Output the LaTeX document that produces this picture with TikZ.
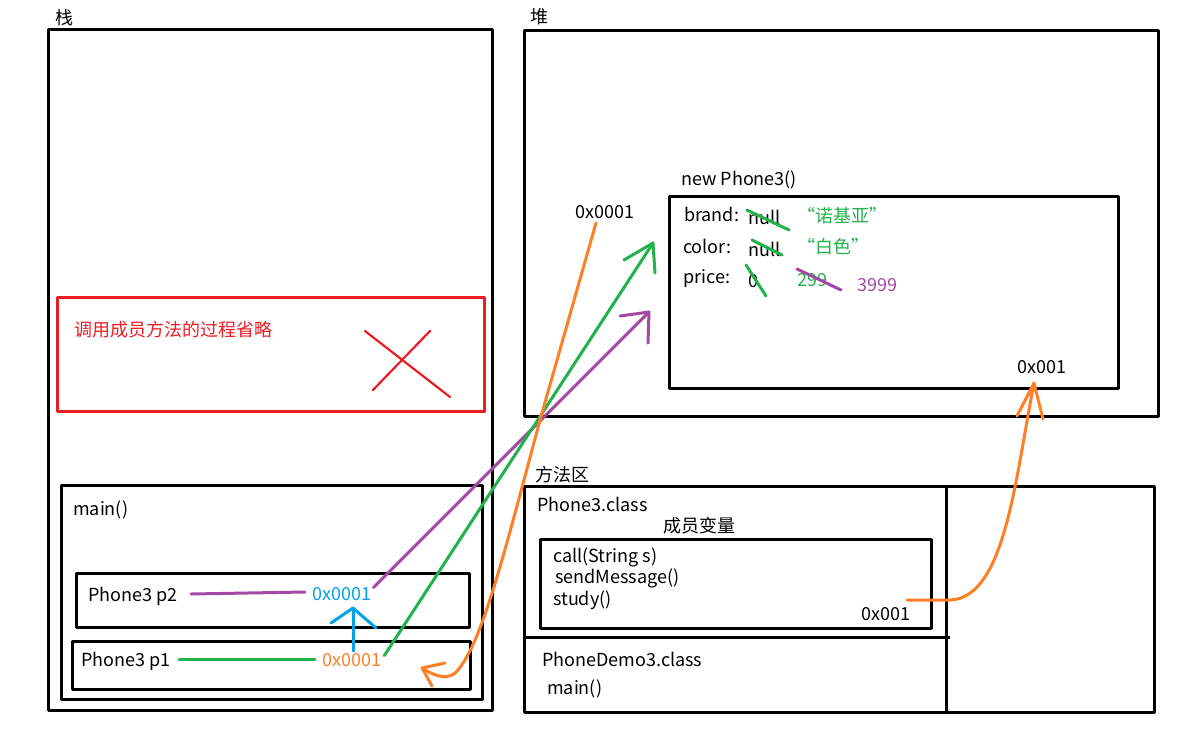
\documentclass[tikz,border=0pt]{standalone}
\usepackage{fontspec}
\setmainfont{Noto Sans CJK SC}
\definecolor{ppurple}{HTML}{A349A4}
\definecolor{pgreen}{HTML}{22B14C}
\definecolor{porange}{HTML}{FF7F27}
\definecolor{pcyan}{HTML}{00A2E8}
\definecolor{pred}{HTML}{ED1C24}
\begin{document}
\begin{tikzpicture}[x=1pt,y=-1pt,line join=round,line cap=round,
  txt/.style={anchor=base west,inner sep=0pt,font=\fontsize{18}{21}\selectfont},
  frame/.style={draw=black,line width=3pt,line cap=rect},
  pen/.style={line width=3pt}]
\useasboundingbox (0,0) rectangle (1186,729);
\fill[white] (0,0) rectangle (1186,729);
% ---- stack
\node[txt] (lstack) at (55,24) {栈};
\draw[frame] (48,29) rectangle (492,710);
\draw[pred,line width=3pt] (57,297) rectangle (484,411);
\node[txt,text=pred] (omit) at (74,336) {调用成员方法的过程省略};
\draw[pred,line width=2.2pt] (365,331) -- (450,397);
\draw[pred,line width=2.2pt] (373,390) -- (430,331);
\draw[frame] (61,485) rectangle (482,699);
\node[txt] (main) at (73,515) {main()};
\draw[frame] (76,573) rectangle (469,627);
\node[txt] (p2) at (88,601) {Phone3 p2};
\node[txt,text=pcyan] (p2v) at (312,600) {0x0001};
\draw[frame] (72,641) rectangle (470,689);
\node[txt] (p1) at (81,666) {Phone3 p1};
\node[txt,text=porange] (p1v) at (322,666) {0x0001};
% ---- heap
\node[txt] (lheap) at (530,23) {堆};
\draw[frame] (524,30) rectangle (1158,416);
\node[txt] (newp) at (681,185) {new Phone3()};
\draw[frame] (669,196) rectangle (1118,388);
\node[txt] (brand) at (684,221) {brand:};
\node[txt] (bnull) at (748,224) {null};
\node[txt,text=pgreen] (bval) at (797,222) {“诺基亚”};
\node[txt] (color) at (683,253) {color:};
\node[txt] (cnull) at (748,256) {null};
\node[txt,text=pgreen] (cval) at (797,253) {“白色”};
\node[txt] (price) at (683,283) {price:};
\node[txt] (pzero) at (748,287) {0};
\node[txt,text=pgreen] (pold) at (797,286) {299};
\node[txt,text=ppurple] (pnew) at (857,291) {3999};
\draw[pgreen,pen] (747,210) -- (789,230);
\draw[pgreen,pen] (752,240) -- (782,255);
\draw[pgreen,pen] (746,265) -- (766,296);
\draw[ppurple,pen] (797,269) -- (841,290);
\node[txt] (objaddr) at (1017,373) {0x001};
\node[txt] (haddr) at (575,218) {0x0001};
% ---- method area
\node[txt] (lmeth) at (535,481) {方法区};
\draw[frame] (524,486) rectangle (1154,712);
\draw[frame] (946,486) -- (946,712);
\draw[frame] (524,637) -- (948,637);
\node[txt] (pclass) at (537,511) {Phone3.class};
\node[txt] (members) at (663,532) {成员变量};
\draw[frame] (540,539) rectangle (931,628);
\node[txt] (m1) at (553,562) {call(String s)};
\node[txt] (m2) at (555,583) {sendMessage()};
\node[txt] (m3) at (553,605) {study()};
\node[txt] (maddr) at (861,620) {0x001};
\node[txt] (dclass) at (542,666) {PhoneDemo3.class};
\node[txt] (dmain) at (547,694) {main()};
% ---- connectors
\coordinate (ptip) at (649,312);
\coordinate (gtip) at (653,243);
\coordinate (otip) at (422,668);
\coordinate (o2tip) at (1034,383);
\draw[ppurple,pen] (191,594) -- (305,592);
\draw[pgreen,pen] (179,659) -- (315,659);
\draw[ppurple,pen] (p2v.east) ++(2,-6) -- (ptip);
\draw[ppurple,pen] (620,316) -- (ptip) -- (648,343);
\draw[pgreen,pen] (p1v.east) ++(3,-4) -- (gtip);
\draw[pgreen,pen] (624,260) -- (gtip) -- (655,273);
\draw[pcyan,pen] (353,651) -- (353,608);
\draw[pcyan,pen] (331,623) -- (353,608) -- (376,628);
\draw[porange,pen] (596,223) -- (540,420) .. controls (500,570) and (482,640) .. (458,670) .. controls (449,681) and (436,677) .. (otip);
\draw[porange,pen] (445,663) -- (otip) -- (432,686);
\draw[porange,pen] (907,600) -- (950,600) .. controls (1005,598) and (1015,480) .. (o2tip);
\draw[porange,pen] (1017,416) -- (o2tip) -- (1043,419);
\end{tikzpicture}
\end{document}
